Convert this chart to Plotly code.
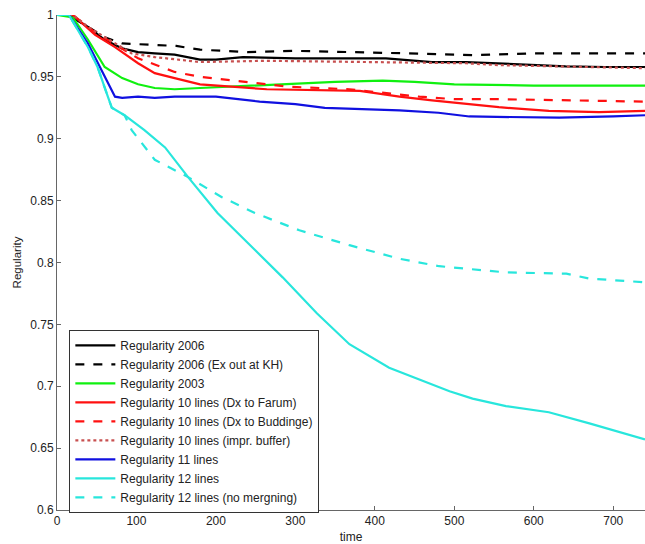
import plotly.graph_objects as go

# --- data ---
names = [
    "Regularity 2006",
    "Regularity 2006 (Ex out at KH)",
    "Regularity 2003",
    "Regularity 10 lines (Dx to Farum)",
    "Regularity 10 lines (Dx to Buddinge)",
    "Regularity 10 lines (impr. buffer)",
    "Regularity 11 lines",
    "Regularity 12 lines",
    "Regularity 12 lines (no mergning)",
]

x_2006 = [0, 15, 40, 60, 82, 102, 123, 148, 180, 200, 234, 300, 414, 472, 515, 600, 640, 690, 740]
y_2006 = [1, 1, 0.99, 0.98, 0.973, 0.970, 0.969, 0.968, 0.964, 0.964, 0.966, 0.965, 0.965, 0.962, 0.962, 0.960, 0.9585, 0.958, 0.958]

x_2006kh = [0, 15, 40, 60, 82, 150, 180, 240, 300, 400, 440, 525, 598, 740]
y_2006kh = [1, 1, 0.99, 0.982, 0.977, 0.975, 0.972, 0.970, 0.971, 0.970, 0.969, 0.9676, 0.969, 0.969]

x_2003 = [0, 20, 39, 60, 82, 102, 123, 148, 180, 250, 300, 350, 410, 450, 500, 600, 740]
y_2003 = [1, 0.998, 0.98, 0.958, 0.949, 0.944, 0.941, 0.940, 0.941, 0.943, 0.944, 0.946, 0.947, 0.946, 0.944, 0.943, 0.943]

x_farum = [0, 20, 48, 73, 102, 123, 148, 180, 264, 381, 431, 472, 556, 619, 682, 740]
y_farum = [1, 1, 0.984, 0.974, 0.961, 0.953, 0.949, 0.944, 0.940, 0.9387, 0.934, 0.931, 0.9255, 0.9225, 0.9215, 0.9225]

x_budd = [0, 20, 48, 73, 102, 123, 148, 180, 220, 293, 368, 400, 456, 500, 553, 650, 740]
y_budd = [1, 1, 0.986, 0.976, 0.965, 0.960, 0.954, 0.950, 0.947, 0.942, 0.940, 0.938, 0.934, 0.932, 0.932, 0.931, 0.930]

x_buffer = [0, 20, 40, 70, 94, 123, 180, 264, 400, 515, 556, 650, 740]
y_buffer = [1, 1, 0.99, 0.978, 0.969, 0.966, 0.962, 0.963, 0.962, 0.961, 0.9595, 0.958, 0.957]

x_11 = [0, 15, 39, 60, 73, 82, 102, 123, 148, 200, 255, 300, 337, 431, 480, 519, 632, 700, 740]
y_11 = [1, 1, 0.977, 0.950, 0.934, 0.933, 0.934, 0.933, 0.934, 0.934, 0.930, 0.928, 0.925, 0.923, 0.921, 0.918, 0.917, 0.918, 0.919]

x_12 = [0, 15, 39, 51, 64, 69, 85, 110, 136, 165, 202, 249, 284, 327, 368, 418, 494, 523, 565, 619, 670, 740]
y_12 = [1, 1, 0.974, 0.958, 0.934, 0.925, 0.919, 0.907, 0.893, 0.869, 0.840, 0.810, 0.788, 0.759, 0.734, 0.715, 0.696, 0.690, 0.684, 0.679, 0.670, 0.657]

x_12nm = [0, 15, 39, 51, 64, 69, 85, 94, 123, 165, 207, 249, 305, 368, 431, 481, 565, 641, 670, 740]
y_12nm = [1, 1, 0.974, 0.958, 0.934, 0.925, 0.919, 0.907, 0.883, 0.869, 0.853, 0.840, 0.826, 0.814, 0.803, 0.797, 0.792, 0.791, 0.787, 0.784]

x_ticks = [0, 100, 200, 300, 400, 500, 600, 700]
y_ticks = [0.6, 0.65, 0.7, 0.75, 0.8, 0.85, 0.9, 0.95, 1]
y_ticklabels = ["0.6", "0.65", "0.7", "0.75", "0.8", "0.85", "0.9", "0.95", "1"]

series_x = [x_2006, x_2006kh, x_2003, x_farum, x_budd, x_buffer, x_11, x_12, x_12nm]
series_y = [y_2006, y_2006kh, y_2003, y_farum, y_budd, y_buffer, y_11, y_12, y_12nm]
colors = ["#000000", "#000000", "#10f010", "#ff1010", "#ff1010", "#c85050",
          "#1010e0", "#28e6dc", "#28e6dc"]
dashes = ["solid", "dash", "solid", "solid", "dash", "dot", "solid", "solid", "dash"]

fig = go.Figure()
for n, xs, ys, c, d in zip(names, series_x, series_y, colors, dashes):
    fig.add_trace(go.Scatter(x=xs, y=ys, mode="lines", name=n,
                             line=dict(color=c, width=2.2, dash=d)))

font = "Liberation Sans, Arial, sans-serif"
fig.update_layout(
    width=645, height=544,
    margin=dict(l=57, r=0, t=15, b=34),
    plot_bgcolor="white", paper_bgcolor="white",
    font=dict(family=font, size=12, color="#222"),
    showlegend=True,
    legend=dict(x=0.021, y=0.364, xanchor="left", yanchor="top",
                bordercolor="#333", borderwidth=1, bgcolor="white",
                font=dict(family=font, size=12, color="#222"),
                tracegroupgap=0, itemwidth=40),
    xaxis=dict(range=[0, 740], tickvals=x_ticks, ticks="inside", ticklen=4,
               showline=True, linecolor="#666", linewidth=1, showgrid=False,
               zeroline=False, tickcolor="#666", automargin=False,
               title=dict(text="time", font=dict(size=12), standoff=6)),
    yaxis=dict(range=[0.6, 1], tickvals=y_ticks, ticktext=y_ticklabels,
               ticks="inside", ticklen=4, automargin=False,
               showline=True, linecolor="#666", linewidth=1, showgrid=False,
               zeroline=False, tickcolor="#666",
               title=dict(text="Regularity", font=dict(size=11.5), standoff=6)),
)

fig.write_html(
    "out.html",
    config={"displayModeBar": False},
    post_script="document.body.style.margin='0px';document.body.style.overflow='hidden';",
)
